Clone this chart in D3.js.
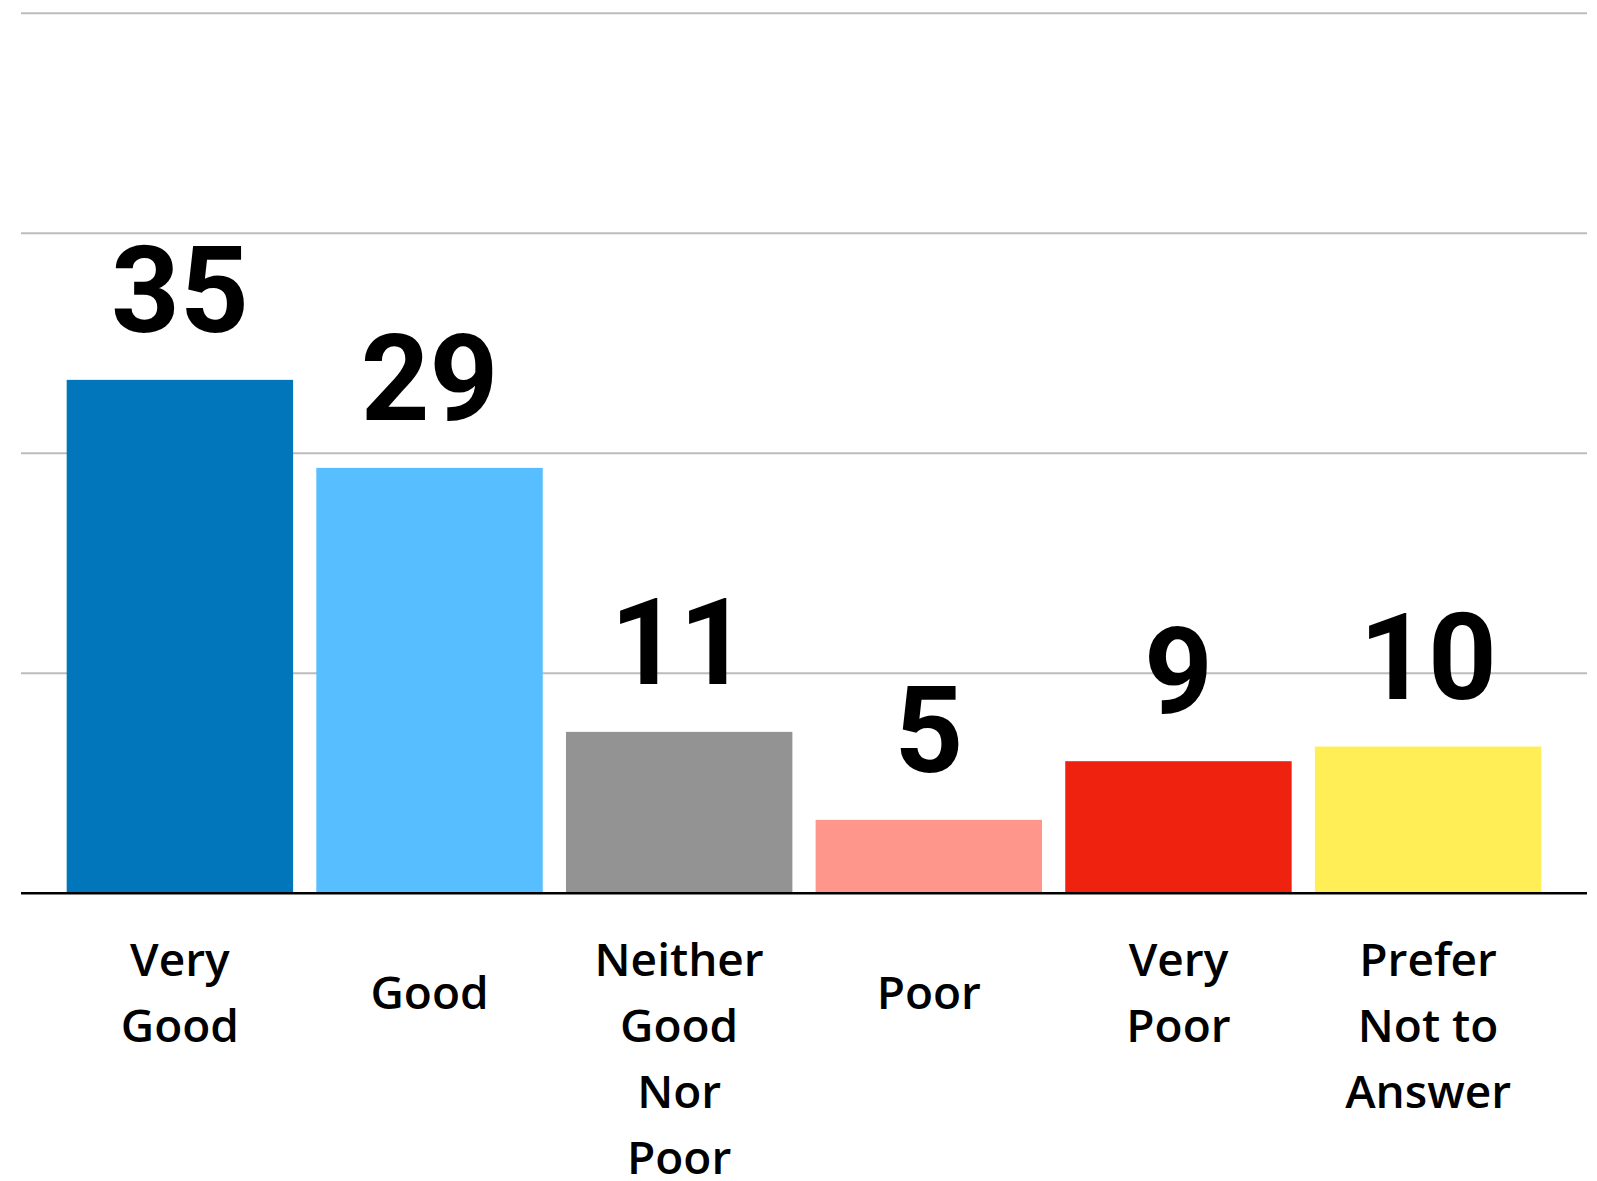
<!DOCTYPE html>
<html>
<head>
<meta charset="utf-8">
<script src="https://cdn.jsdelivr.net/npm/d3@7"></script>
<style>
  html, body { margin: 0; padding: 0; background: #ffffff; }
  svg { display: block; }
</style>
</head>
<body>
<svg id="chart" width="1597" height="1181"></svg>
<script>
// ---- data ----
const categories = ["Very Good", "Good", "Neither Good Nor Poor", "Poor", "Very Poor", "Prefer Not to Answer"];
const categoryLines = [["Very", "Good"], ["Good"], ["Neither", "Good", "Nor", "Poor"], ["Poor"], ["Very", "Poor"], ["Prefer", "Not to", "Answer"]];
const values = [35, 29, 11, 5, 9, 10];
const barColors = ["#0176ba", "#57bfff", "#939393", "#fe968c", "#ee220f", "#ffee55"];
const gridTicks = [15, 30, 45, 60];

(function () {
  // ---- layout ----
  const plotLeft = 21, plotRight = 1587, plotTop = 13.2, plotBase = 893.2;

  const svg = d3.select("#chart");

  const x = d3.scaleBand()
    .domain(categories)
    .range([plotLeft, plotRight])
    .paddingInner(0.093)
    .paddingOuter(0.183);

  const y = d3.scaleLinear().domain([0, 60]).range([plotBase, plotTop]);

  // gridlines
  svg.append("g").selectAll("line")
    .data(gridTicks)
    .join("line")
    .attr("x1", plotLeft).attr("x2", plotRight)
    .attr("y1", d => y(d)).attr("y2", d => y(d))
    .attr("stroke", "#bdbdbd")
    .attr("stroke-width", 2);

  // bars
  svg.append("g").selectAll("rect")
    .data(values)
    .join("rect")
    .attr("x", (d, i) => x(categories[i]))
    .attr("width", x.bandwidth())
    .attr("y", d => y(d))
    .attr("height", d => y(0) - y(d))
    .attr("fill", (d, i) => barColors[i]);

  // baseline
  svg.append("line")
    .attr("x1", plotLeft).attr("x2", plotRight)
    .attr("y1", y(0)).attr("y2", y(0))
    .attr("stroke", "#000")
    .attr("stroke-width", 2.5);

  // value labels
  svg.append("g").selectAll("text")
    .data(values)
    .join("text")
    .attr("x", (d, i) => x(categories[i]) + x.bandwidth() / 2)
    .attr("y", d => y(d) - 48)
    .attr("text-anchor", "middle")
    .attr("font-family", "Roboto, 'Open Sans', sans-serif")
    .attr("font-weight", 700)
    .attr("font-size", 120)
    .attr("fill", "#000")
    .text(d => d);

  // category labels
  const lineH = 66;
  const firstBaseline = 976;
  const labelG = svg.append("g")
    .attr("font-family", "'Open Sans', Roboto, sans-serif")
    .attr("font-weight", 600)
    .attr("font-size", 46)
    .attr("fill", "#000")
    .attr("text-anchor", "middle");

  categories.forEach((c, i) => {
    const lines = categoryLines[i];
    const cx = x(c) + x.bandwidth() / 2;
    const y0 = lines.length === 1 ? firstBaseline + lineH / 2 : firstBaseline;
    const t = labelG.append("text").attr("x", cx).attr("y", y0);
    lines.forEach((ln, j) => {
      t.append("tspan")
        .attr("x", cx)
        .attr("y", y0 + j * lineH)
        .text(ln);
    });
  });
})();
</script>
</body>
</html>
